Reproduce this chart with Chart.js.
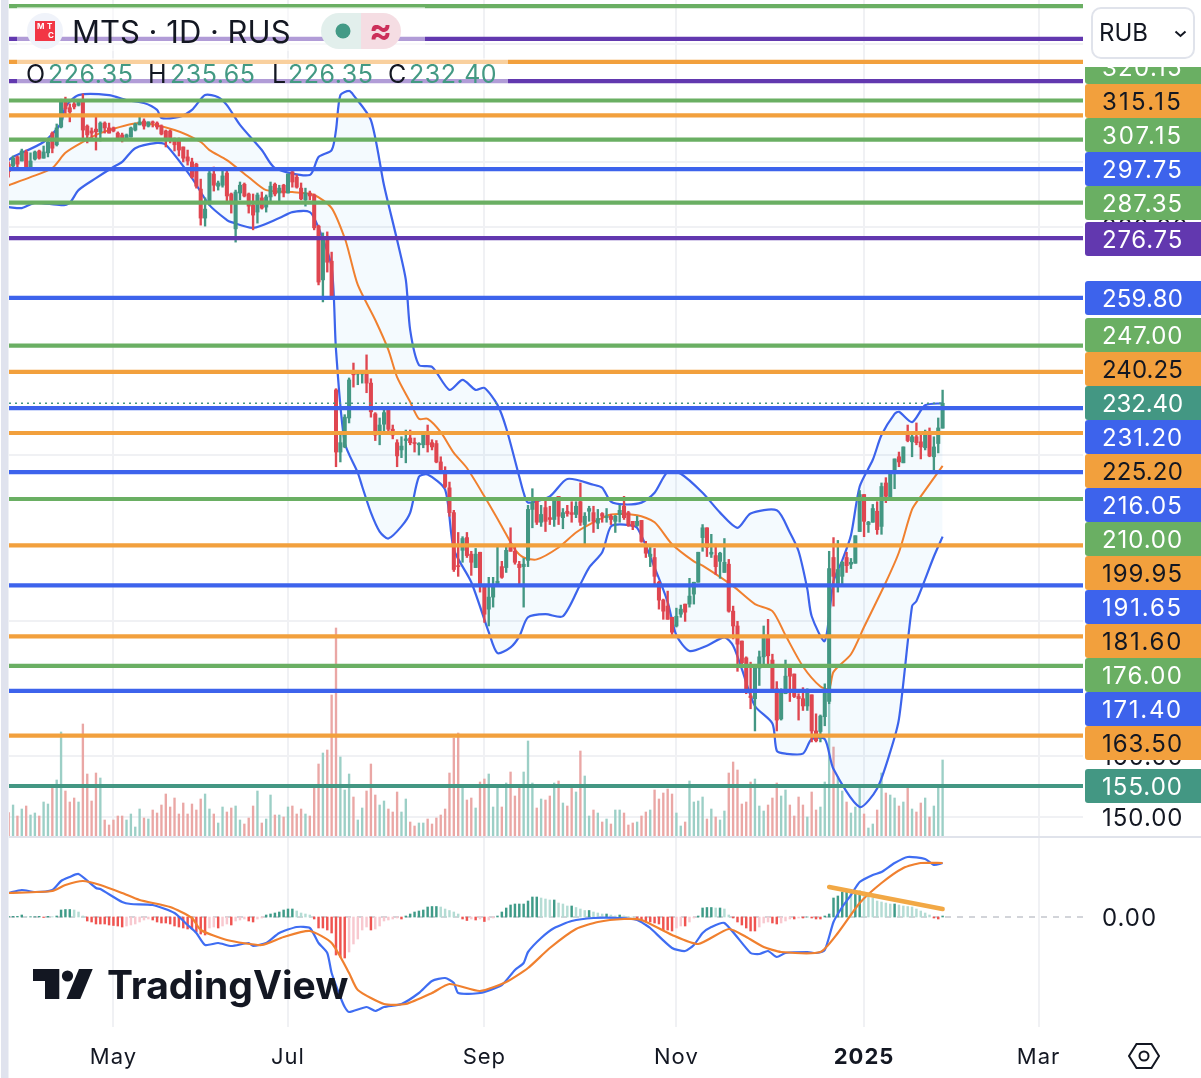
<!DOCTYPE html>
<html><head><meta charset="utf-8">
<style>html,body{margin:0;padding:0;background:#fff}canvas{display:block}</style>
<script src="https://cdn.jsdelivr.net/npm/chart.js@4/dist/chart.umd.min.js"></script>
</head><body>
<canvas id="c" width="1201" height="1078"></canvas>
<script>
const opens=[299.3,298.7,301.6,300.3,303.2,298.4,300.9,303.5,301.2,302.9,
309.3,305.5,311.3,320.0,317.7,319.0,318.6,319.6,311.6,310.0,
310.6,309.7,312.6,311.0,311.0,309.3,308.7,307.1,308.0,310.3,
312.0,313.3,311.6,313.0,312.6,311.6,310.0,310.0,307.4,307.4,
304.8,301.6,300.0,299.3,291.5,282.7,287.3,296.2,292.4,292.7,
296.5,290.0,279.5,290.3,293.0,290.0,286.6,284.5,288.8,286.0,
289.1,293.0,290.3,292.7,290.3,296.9,295.2,291.8,288.2,290.3,
289.7,280.3,264.8,276.8,270.1,235.7,220.7,221.9,228.8,240.0,
239.7,239.7,240.0,237.4,229.8,225.2,227.3,230.8,226.1,222.9,
221.2,223.4,224.0,222.9,222.4,222.4,224.7,222.9,222.7,218.4,
216.4,212.5,207.0,195.7,198.9,201.6,198.1,195.3,198.5,191.5,
186.9,189.3,191.5,195.5,195.3,200.4,198.7,196.0,195.5,196.8,
207.7,210.3,204.9,208.1,205.9,205.5,210.6,205.9,207.3,207.0,
206.6,209.4,204.4,207.3,207.0,204.7,206.8,205.9,206.2,205.1,
206.6,208.4,207.0,205.1,204.2,205.3,200.2,197.6,197.4,192.3,
188.7,187.5,185.3,183.6,185.9,187.9,187.9,189.9,192.3,201.6,
203.7,198.1,197.8,196.6,194.3,196.0,186.5,183.6,180.7,177.5,
170.5,170.0,175.6,177.7,181.8,177.1,171.8,166.4,170.9,175.6,
174.5,170.4,170.0,168.7,170.7,164.3,164.2,166.8,169.5,197.4,
191.5,193.5,197.4,196.0,196.2,202.9,211.0,204.4,204.9,207.3,
204.0,213.6,209.9,216.1,219.6,218.2,224.7,223.1,224.3,223.1,
221.7,225.4,219.6,222.7,226.35];
const highs=[300.0,301.9,301.9,304.1,303.8,302.9,303.5,303.8,305.1,307.1,
309.7,312.3,320.6,321.3,319.0,320.6,320.3,322.4,312.0,311.0,
314.6,313.0,313.0,312.6,311.3,309.7,309.3,309.0,311.3,312.6,
314.6,314.0,313.0,313.3,313.0,312.0,310.3,310.3,307.7,307.7,
304.8,303.8,301.2,299.6,294.6,288.8,297.8,298.4,294.0,297.8,
297.5,290.3,291.2,293.7,293.4,290.3,290.0,290.3,290.6,289.7,
293.7,293.4,292.7,293.0,296.2,297.2,295.9,293.4,291.8,290.9,
290.0,280.6,278.3,278.6,272.7,236.0,225.4,229.6,238.7,242.5,
240.2,240.0,244.6,238.5,230.1,228.8,231.0,231.0,227.1,223.6,
224.3,225.9,225.9,224.0,222.9,224.9,227.1,223.6,223.4,219.6,
217.3,213.8,207.5,202.7,201.8,202.7,198.7,199.3,198.5,191.9,
193.3,193.3,199.7,196.6,199.9,203.7,199.7,196.6,197.2,208.6,
212.3,210.3,208.6,209.7,208.4,210.3,210.6,207.9,208.6,209.4,
209.4,213.6,207.0,208.4,208.4,207.7,207.0,207.9,206.6,206.4,
208.6,210.6,207.3,205.1,206.2,205.3,200.8,199.7,199.3,192.5,
188.9,190.5,185.3,187.1,187.7,187.9,193.1,192.3,198.5,204.4,
203.7,202.3,200.2,198.5,201.4,197.0,187.5,184.5,180.7,177.7,
176.7,175.6,178.8,183.6,184.9,178.2,173.1,171.8,177.1,175.6,
174.5,170.9,172.0,171.8,170.7,167.3,167.1,172.7,198.7,201.6,
201.0,196.6,198.5,197.2,202.0,211.9,211.0,205.1,208.8,209.4,
213.6,214.8,216.4,219.1,220.7,221.9,227.1,225.2,227.6,224.7,
225.9,226.4,224.3,228.8,235.65];
const lows=[295.2,298.1,298.4,300.3,297.8,298.4,300.6,300.9,301.2,301.6,
302.9,305.1,311.0,315.6,313.0,317.3,318.3,307.7,306.1,307.1,
303.8,306.7,309.3,309.3,309.7,307.1,306.4,307.1,308.0,310.0,
312.0,310.6,311.3,311.3,310.6,308.7,304.8,306.1,303.5,301.9,
300.0,299.0,294.9,291.8,280.6,280.3,286.6,290.9,291.2,292.1,
287.3,284.2,275.6,288.2,289.1,284.2,279.2,281.2,285.4,284.5,
287.6,289.4,287.6,289.1,290.3,292.1,291.8,288.2,286.3,288.2,
279.2,263.4,258.7,267.0,259.8,217.3,218.4,221.7,227.6,236.4,
237.0,237.4,235.0,229.0,223.4,222.4,225.2,225.7,223.8,217.3,
219.4,218.2,222.4,220.7,220.0,221.7,220.7,221.2,218.2,215.9,
212.5,206.2,194.5,193.5,196.4,197.4,193.7,195.3,190.3,184.3,
183.6,187.3,191.5,193.1,194.3,198.7,196.0,191.9,187.3,195.5,
203.7,204.4,204.0,202.9,204.4,204.0,204.4,203.5,206.2,204.9,
205.9,204.2,199.7,205.1,202.7,203.5,204.9,204.9,204.4,202.7,
204.9,205.5,204.0,203.3,204.0,200.6,197.4,195.5,191.5,186.9,
184.9,184.9,181.7,183.4,185.3,184.5,187.3,187.9,192.3,198.7,
197.6,197.4,193.9,193.1,194.3,186.3,181.1,175.0,176.0,170.9,
168.2,164.3,172.4,175.8,175.9,171.2,164.3,166.2,170.9,169.5,
170.2,166.2,167.9,167.9,162.4,162.4,162.4,165.2,169.1,187.5,
190.3,191.5,194.3,195.1,196.2,202.9,201.8,202.7,204.9,202.3,
202.3,209.2,209.9,212.3,217.3,218.2,223.1,219.6,222.4,219.1,
221.2,219.6,216.4,220.5,226.35];
const closes=[296.9,301.2,299.3,303.5,298.1,300.3,303.2,301.2,303.2,306.4,
304.4,311.0,320.3,317.3,316.3,318.0,319.6,310.3,308.7,309.3,
309.7,312.6,311.0,309.3,310.0,307.7,307.4,308.7,311.0,312.3,
313.0,311.6,313.0,312.6,311.3,309.0,307.4,307.4,305.5,303.8,
301.2,300.3,295.2,292.4,282.7,285.4,296.5,292.7,293.4,295.6,
289.4,287.6,290.6,292.7,289.4,286.3,283.6,289.7,285.7,289.1,
292.4,290.0,291.8,290.3,296.2,293.7,292.1,288.5,290.3,289.4,
279.8,264.2,276.8,269.8,260.0,220.7,222.9,229.0,238.2,239.5,
240.2,240.0,237.4,230.3,224.7,227.1,230.1,226.1,224.7,219.8,
222.1,223.8,222.9,222.7,222.7,224.7,222.4,221.9,218.4,216.1,
212.8,207.0,194.9,195.5,201.4,197.8,196.4,198.1,191.9,185.9,
189.3,191.3,192.5,193.3,198.9,198.7,196.4,195.3,196.0,207.7,
209.2,204.9,206.6,205.1,205.5,209.9,206.2,207.0,206.8,206.6,
208.4,204.9,206.2,207.9,205.1,205.7,206.2,206.2,205.5,206.2,
207.5,205.9,204.2,204.0,205.1,200.8,198.3,198.1,193.5,188.7,
186.5,184.9,182.4,185.5,186.9,186.3,189.5,192.3,198.5,203.7,
199.5,198.5,195.5,198.3,196.4,186.5,183.6,180.1,176.6,171.1,
170.2,175.6,177.7,181.8,177.9,171.8,166.2,171.4,174.1,174.1,
170.4,170.0,168.7,171.1,164.3,162.6,166.9,171.2,195.1,193.5,
194.9,196.4,195.7,196.4,202.0,211.0,205.1,204.9,207.9,203.3,
212.8,210.6,216.1,219.1,218.4,221.9,223.4,224.3,222.9,221.9,
225.4,219.8,221.9,226.4,232.40];
const volumes=[70,93,60,81,90,63,69,60,102,96,147,168,312,135,102,114,102,336,186,105,
189,174,48,33,48,60,60,48,66,27,81,54,51,78,69,93,126,87,114,66,
99,66,96,78,111,126,81,66,39,87,72,84,90,48,36,54,90,135,39,51,
123,63,63,57,87,90,66,81,66,60,147,216,249,258,423,624,237,138,186,117,
48,84,135,216,123,93,105,81,72,132,72,111,42,30,39,39,51,36,54,63,
81,189,294,309,147,108,114,84,162,171,186,87,144,87,159,192,120,144,192,285,
159,84,111,108,120,159,165,99,90,144,132,255,180,60,78,69,42,51,36,78,
78,69,33,39,42,60,72,78,138,111,129,141,126,69,30,42,165,102,105,117,
51,81,57,48,75,189,222,198,96,102,162,171,90,75,93,114,159,120,138,93,
60,117,93,57,132,78,87,162,400,267,178,135,102,69,87,144,66,24,36,78,
189,129,123,114,90,102,144,81,72,99,114,57,90,144,228];
const macdHist=[.3,.7,.7,2,.3,.3,.3,.7,-.5,.7,.3,1,7,7.5,7.5,7,5,1,-4,-5,
-7,-7,-7,-8,-8.5,-9,-10,-9,-8,-7,-5,-3,-2,-3,-5,-6,-6,-7,-9,-10,
-11,-12,-12,-15,-17,-18,-11,-10,-11,-9,-7,-8,-4,-3,-2,-4,-5,-2,-1,2,
3,4,5,7,8,8,6,4,3,2,-2,-11,-11,-13,-16,-38,-40,-41,-35,-27,
-22,-13,-10,-13,-12,-9,-4,-3,-2,-1,-2,1,3,5,6,7,10,10.5,10.5,10,
8,6.5,5,3,-2,-3.5,-2,-3,-2,-4.5,-3,-1,1,5,9,12,13,13,13,16,
20,20,19,18,17,17,14,13,11,11,9.5,8,6.5,6.5,5,4,3,3,2,1,
2,1,.5,0,-3,-4,-5,-5,-6,-7,-13,-13,-14,-11,-9,-9,-5,-1,1,9,
9.5,9.5,9,9,8,2,-1,-5,-8,-11,-14,-14,-10,-6,-5,-6,-7,-6,-4,-2,
-2,-1,-1,0,-1,-2,-2,1,3,19,21,25,25,24,24,26,25,22,19,16,
15,14,13,13,12,11,10.5,10,8,6,4,2,-1,-2,1];

const upperBars=[0,1,8,12,13,16,23,27,31,34,35,39,42,45,48,50,53,58,61,69,71,74,75,76,78,79,83,86,89,91,92,94,97,101,104,107,109,112,114,117,118,119,124,128,134,136,138,141,145,148,151,154,159,163,167,170,176,179,181,183,184,187,189,191,193,195,198,200,203,204,207,210,214];
const upperBand=[300.6,301.6,306.4,312.6,318,322,322,320.3,319.3,317,314.3,314.6,317,322,321.3,318.6,312,303.8,298.1,295.9,301.6,303.8,310.3,322,323.4,322,313.6,292.7,276.2,264.8,251.1,242,241.5,235.7,238.2,235.7,236.2,232,226.4,215,211.4,209.2,210.6,214.5,213.2,212.5,209.4,208.8,209.2,211.4,216.1,215.7,211.4,207,203.7,206.8,207.5,202.7,198.7,190.9,185.5,180.7,192.5,196.8,202.1,212.8,218.9,224.7,229.8,230.3,227.8,231.9,232.4];
const lowerBars=[0,3,6,12,14,16,20,24,26,29,34,36,42,46,50,51,56,62,65,69,71,74,75,77,80,81,83,85,87,90,92,94,96,100,102,106,110,112,115,117,119,123,127,131,133,136,138,141,144,148,151,153,156,160,164,166,168,171,175,176,178,182,184,187,189,195,199,202,204,207,208,212,214];
const lowerBand=[286,285.7,287.3,286.6,287.3,291.2,294.9,298.4,300,304.4,306.1,305.5,294.9,286.6,282.1,281.5,279.8,282.7,284.5,284.5,279.8,268.4,245.9,222.9,215.9,212.8,207,202.9,201.4,204,207,215,215.5,212.1,199.1,192.3,182.4,178.4,179.5,181.6,185.3,185.9,185.5,191.9,195.3,198.5,204,204.4,203.7,195.3,188.3,181.8,178.8,179.8,181.4,179.8,175.4,168.7,165.6,160.9,160.4,160.4,162.9,162.9,157.8,151.6,154.6,160.7,166.4,187.5,188.5,197.6,201.8];
const basisBars=[0,5,10,13,17,21,30,38,44,46,50,55,59,65,70,74,77,78,80,84,87,89,92,94,96,99,102,105,109,113,116,118,121,126,130,133,138,144,148,152,157,159,166,171,175,178,182,186,188,189,193,196,201,204,207,209,214];
const basisBand=[292.7,295.2,298.1,302.9,306.4,309.3,312.6,310.3,306.4,303.8,300.6,295.2,291.2,290.6,289.7,285.7,276.8,272.4,263.4,253.8,245.9,238.9,232.7,228.6,228.6,225.4,220.5,217,210.6,204,199.1,197.4,197,199.5,202.7,204.4,206.6,206.4,204.9,200.2,196.6,195.7,191.5,187.9,186.5,181.8,175.9,172.2,171.8,174.9,178.2,183.4,192.3,198.5,207.7,210.6,217.5];
const macdBars=[0,3,6,10,12,14,16,20,21,26,28,33,38,41,43,45,48,51,55,56,59,62,66,69,71,73,74,76,77,78,82,84,86,90,94,97,100,102,103,108,113,116,118,119,122,125,129,134,140,144,146,147,152,155,157,159,161,164,170,172,174,176,178,183,185,187,189,191,193,195,198,200,203,206,210,212,214];
const macdLine=[24,27,25,27,36,40,43,29,28,15,13,12,4,-8,-16,-28,-26,-29,-26,-29,-26,-16,-10,-11,-26,-36,-56,-80,-90,-95,-90,-94,-90,-87,-76,-64,-61,-66,-76,-76,-68,-53,-46,-35,-21,-11,-4,-1,-1,-3,-8,-11,-31,-34,-28,-16,-10,-6,-36,-37,-34,-40,-36,-35,-36,-33,-5,10,22,35,42,45,54,60,58,52,54];
const signalBars=[0,10,13,17,21,26,30,37,42,44,50,58,63,69,74,78,80,86,91,97,101,108,114,119,124,130,135,141,145,152,158,165,169,173,177,186,190,195,200,205,209,214];
const signalLine=[24,26,32,36,32,24,17,10,-1,-13,-23,-28,-20,-14,-26,-56,-73,-87,-87,-76,-67,-74,-65,-51,-31,-12,-5,-2,-3,-18,-27,-12,-20,-30,-35,-35,-16,14,34,49,54,54];
const trendBars=[188,214];
const trendValues=[30,8];

const greenLevels=[353.8,320.15,307.15,287.35,247,210,176];
const orangeLevels=[333.5,315.15,240.25,225.2,199.95,181.6,163.5];
const blueLevels=[297.75,259.8,231.2,216.05,191.65,171.4];
const purpleLevels=[341.7,326.8,276.75];
const tealLevels=[155];
const lastPrice=232.40;
const priceTicks=[150,160,184.5,220,280,300,340];
const monthTicks=[24,64,109,153,196,236];
const monthLabels=['May','Jul','Sep','Nov','2025','Mar'];
const ohlcLegend=[['O','226.35'],['H','235.65'],['L','226.35'],['C','232.40']];

const GREEN='#6AAF63',ORANGE='#F2A03D',BLUE='#3D63EC',PURPLE='#6238AF',TEAL='#439783',RED='#DF4650',INK='#131722';
const FONT='Inter, "Noto Sans", sans-serif';
const barIdx=closes.map((_,i)=>i);
const up=closes.map((c,i)=>c>=opens[i]);
const X0=.07,X1=246.17;
const pairs=(xs,ys)=>xs.map((x,i)=>({x,y:ys[i]}));
const lineDs=(xs,ys,color,width,extra)=>Object.assign({type:'line',data:pairs(xs,ys),borderColor:color,borderWidth:width,pointRadius:0,tension:.25,fill:false},extra);
const levelDs=(v,color)=>({type:'line',data:[{x:X0,y:v},{x:X1,y:v}],borderColor:color,borderWidth:4.2,pointRadius:0,order:1,yAxisID:'y'});

const datasets=[
 lineDs(upperBars,upperBand,BLUE,2.2,{order:7,yAxisID:'y',fill:{target:'+1',above:'rgba(33,150,243,.05)',below:'rgba(33,150,243,.05)'}}),
 lineDs(lowerBars,lowerBand,BLUE,2.2,{order:7,yAxisID:'y'}),
 lineDs(basisBars,basisBand,'#F0802F',2,{order:6,yAxisID:'y'}),
 {type:'bar',data:volumes,yAxisID:'yVol',grouped:false,barThickness:1.7,order:9,backgroundColor:up.map(u=>u?'#9CCFC6':'#EAA7A5')},
 {type:'bar',data:lows.map((l,i)=>[l,highs[i]]),yAxisID:'y',grouped:false,barThickness:1.7,order:4,backgroundColor:up.map(u=>u?TEAL:RED)},
 {type:'bar',data:opens.map((o,i)=>[o,closes[i]]),yAxisID:'y',grouped:false,barThickness:3.4,minBarLength:1,order:3,backgroundColor:up.map(u=>u?TEAL:RED)},
 {type:'line',data:[{x:X0,y:lastPrice},{x:213.9,y:lastPrice}],borderColor:TEAL,borderWidth:1.5,borderDash:[2,4],pointRadius:0,order:2,yAxisID:'y'},
 ...greenLevels.map(v=>levelDs(v,GREEN)),
 ...orangeLevels.map(v=>levelDs(v,ORANGE)),
 ...blueLevels.map(v=>levelDs(v,BLUE)),
 ...purpleLevels.map(v=>levelDs(v,PURPLE)),
 ...tealLevels.map(v=>levelDs(v,TEAL)),
 {type:'line',data:[{x:X0,y:0},{x:X1,y:0}],borderColor:'#B5B8C0',borderWidth:1.2,borderDash:[6,6],pointRadius:0,order:12,yAxisID:'yMacd'},
 {type:'bar',data:macdHist,yAxisID:'yMacd',grouped:false,barThickness:1.8,order:11,
  backgroundColor:macdHist.map((h,i)=>{const p=i?macdHist[i-1]:0;return h>=0?(h>=p?'#3F9B88':'#B4DCD4'):(h<=p?'#EF5350':'#F8C8CF');})},
 lineDs(macdBars,macdLine,'#3F6DF2',2.2,{order:10,yAxisID:'yMacd',tension:.2}),
 lineDs(signalBars,signalLine,'#F0802F',2.2,{order:9.5,yAxisID:'yMacd',tension:.2}),
 lineDs(trendBars,trendValues,'#F2A845',4.5,{order:9,yAxisID:'yMacd',tension:0,borderCapStyle:'round'})
];

// price labels on the axis: [value, colour, text colour, centre height]
const axisTags=[[320.15,GREEN,'#fff',67],[315.15,ORANGE,INK,101],[307.15,GREEN,'#fff',135],[297.75,BLUE,'#fff',169],[287.35,GREEN,'#fff',203],
 [276.75,PURPLE,'#fff',239],[259.80,BLUE,'#fff',298],[247.00,GREEN,'#fff',335],[240.25,ORANGE,INK,369],[232.40,TEAL,'#fff',403],
 [231.20,BLUE,'#fff',437],[225.20,ORANGE,INK,471],[216.05,BLUE,'#fff',505],[210.00,GREEN,'#fff',539],[199.95,ORANGE,INK,573],
 [191.65,BLUE,'#fff',607],[181.60,ORANGE,INK,641],[176.00,GREEN,'#fff',675],[171.40,BLUE,'#fff',709],[163.50,ORANGE,INK,743],[155.00,TEAL,'#fff',786]];

const chrome={id:'chrome',
 beforeDraw(ch){const c=ch.ctx;c.save();c.fillStyle='#fff';c.fillRect(0,0,1201,1078);c.fillStyle='#E0E3EE';c.fillRect(1,0,7.5,1078);c.restore();c.letterSpacing='1px';},
 afterDraw(ch){const c=ch.ctx;c.save();
  c.textBaseline='middle';
  // axis tags, spread to one common width
  c.font='24px '+FONT;
  axisTags.forEach(([v,bg,fg,y])=>{const t=v.toFixed(2);c.letterSpacing='0px';const w=c.measureText(t).width;c.letterSpacing=((81-w)/6).toFixed(2)+'px';
   c.fillStyle=bg;c.beginPath();c.roundRect(1085,y-17,116,34,[3,0,0,3]);c.fill();c.fillStyle=fg;c.fillText(t,1102,y+2);});
  c.letterSpacing='1px';
  // 0.00 tick of the MACD pane
  c.fillStyle=INK;c.fillText('0.00',1102,ch.scales.yMacd.getPixelForValue(0)+2);
  c.letterSpacing='0px';
  // pane divider
  c.fillStyle='#E0E3EB';c.fillRect(9,836,1192,2);
  // currency box
  c.fillStyle='#fff';c.fillRect(1084,0,117,67);
  c.strokeStyle='#E0E3EB';c.lineWidth=2;c.beginPath();c.roundRect(1092,8,102,50,9);c.stroke();
  c.fillStyle=INK;c.font='24px '+FONT;c.fillText('RUB',1099,34);
  c.strokeStyle=INK;c.lineWidth=2;c.beginPath();c.moveTo(1175.5,31.5);c.lineTo(1180.5,36);c.lineTo(1185.5,31.5);c.stroke();
  // legend backing
  c.fillStyle='rgba(255,255,255,.5)';c.fillRect(17,7,408,44);c.fillRect(17,58,491,32);
  // symbol badge
  c.fillStyle='#F0F3FA';c.beginPath();c.arc(45,31,18,0,7);c.fill();
  c.fillStyle='#F23645';c.fillRect(35,21,20,20);
  c.fillStyle='#fff';c.font='bold 8px '+FONT;c.fillText('M',37,27);c.fillText('T',47,27);c.fillText('C',48,36);
  c.fillStyle=INK;c.font='31px '+FONT;c.fillText('MTS · 1D · RUS',72,34);
  // status pill
  c.fillStyle='#E2EFEC';c.beginPath();c.roundRect(321,13,40,36,[18,0,0,18]);c.fill();
  c.fillStyle='#F5DDE3';c.beginPath();c.roundRect(361,13,40,36,[0,18,18,0]);c.fill();
  c.fillStyle='#439A86';c.beginPath();c.arc(343,31,7.5,0,7);c.fill();
  c.fillStyle='#CC2F5A';c.font='bold 34px '+FONT;c.fillText('≈',369,32);
  // OHLC row
  c.font='25px '+FONT;c.letterSpacing='.5px';
  [[26,48],[148,170],[272,288],[388,409]].forEach(([a,b],i)=>{c.fillStyle=INK;c.fillText(ohlcLegend[i][0],a,75);c.fillStyle='#439983';c.fillText(ohlcLegend[i][1],b,75);});
  c.letterSpacing='0px';
  // watermark
  c.fillStyle=INK;
  c.beginPath();c.moveTo(33,969);c.lineTo(59.3,969);c.lineTo(59.3,999);c.lineTo(45,999);c.lineTo(45,981);c.lineTo(33,981);c.closePath();c.fill();
  c.beginPath();c.arc(67.5,976,5.6,0,7);c.fill();
  c.beginPath();c.moveTo(79,969);c.lineTo(92.7,969);c.lineTo(80.3,999);c.lineTo(66.5,999);c.closePath();c.fill();
  c.font='700 39px '+FONT;c.fillText('TradingView',107,987);
  // settings glyph
  c.strokeStyle=INK;c.lineWidth=2;c.beginPath();
  for(let k=0;k<6;k++){const a=k*Math.PI/3;const x=1144+15*Math.cos(a),y=1056+14*Math.sin(a);k?c.lineTo(x,y):c.moveTo(x,y);}
  c.closePath();c.stroke();c.beginPath();c.arc(1144,1056,4.5,0,7);c.stroke();
  c.restore();}
};

new Chart(document.getElementById('c'),{
 type:'bar',
 data:{labels:barIdx,datasets},
 plugins:[chrome],
 options:{responsive:false,animation:false,events:[],
  layout:{padding:{left:9,right:0,top:0,bottom:0}},
  plugins:{legend:{display:false},tooltip:{enabled:false}},
  scales:{
   x:{type:'linear',min:X0,max:X1,offset:false,bounds:'data',
    grid:{offset:false,color:'#F0F1F4',lineWidth:2,drawTicks:false},border:{display:false},
    afterBuildTicks:s=>{s.ticks=monthTicks.map(value=>({value}));},
    afterFit:s=>{s.height=51;s.paddingLeft=0;s.paddingRight=0;},
    ticks:{autoSkip:false,maxRotation:0,padding:17,color:INK,callback:(v,i)=>monthLabels[i],
     font:ctx=>({family:FONT,size:22,weight:ctx.index===4?'700':'400'})}},
   y:{type:'logarithmic',position:'right',min:120.11,max:356.08,bounds:'data',
    grid:{color:'#F0F1F4',lineWidth:2,drawTicks:false},border:{display:false},
    afterBuildTicks:s=>{s.ticks=priceTicks.map(value=>({value}));},
    afterFit:s=>{s.width=118;s.paddingTop=0;s.paddingBottom=0;},
    ticks:{autoSkip:false,padding:19,labelOffset:2,color:INK,callback:v=>Number(v).toFixed(2),font:{family:FONT,size:24}}},
   yVol:{type:'linear',display:false,min:-573,max:2508,bounds:'data'},
   yMacd:{type:'linear',display:false,min:-110,max:917,bounds:'data'}
  }}
});
</script>
</body></html>
